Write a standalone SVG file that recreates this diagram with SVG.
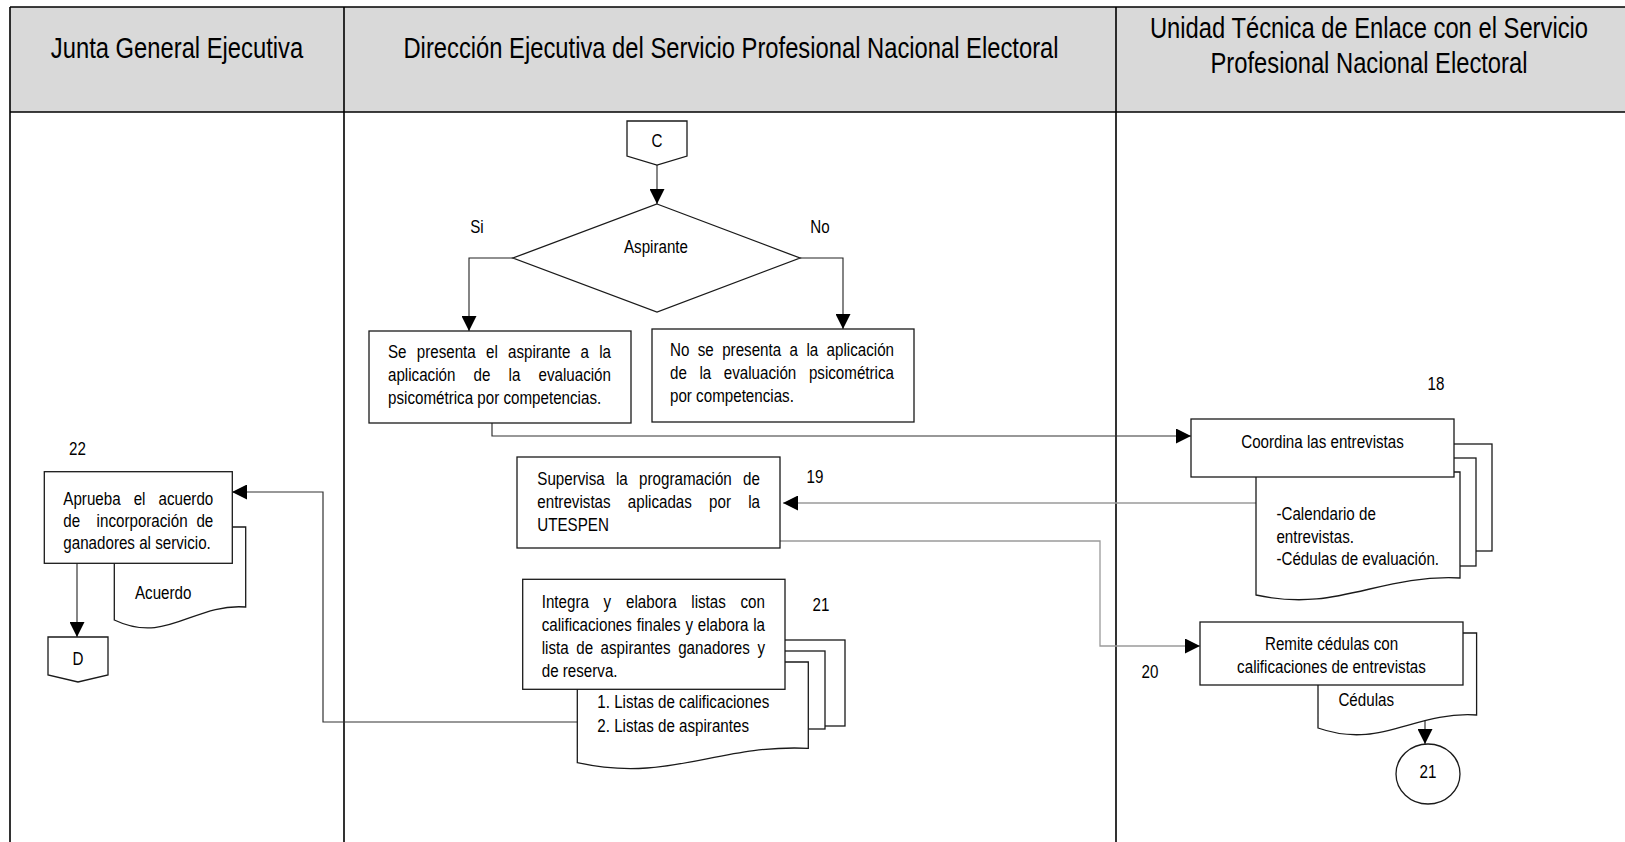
<svg xmlns="http://www.w3.org/2000/svg" width="1625" height="842" viewBox="0 0 1625 842">
<defs>
<style>
.t{font-family:'Liberation Sans',Arial,sans-serif;font-size:18.5px;fill:#000}
.h{font-size:29px}
.m{text-anchor:middle}
.box{fill:#fff;stroke:#1a1a1a;stroke-width:1.3}
.lane{fill:none;stroke:#000;stroke-width:1.6}
.cn{fill:none;stroke:#222;stroke-width:1.1}
.cd{fill:none;stroke:#333;stroke-width:1.2}
.cg{fill:none;stroke:#9a9a9a;stroke-width:1.3}
</style>
<marker id="ah" viewBox="0 0 10 10" refX="10" refY="5" markerWidth="15" markerHeight="15" markerUnits="userSpaceOnUse" orient="auto"><path d="M0,0L10,5L0,10Z" fill="#000"/></marker>
</defs>
<rect x="0" y="0" width="1625" height="842" fill="#fff"/>
<g id="lanes">
<rect x="10" y="7" width="1620" height="105" fill="#d9d9d9"/>
<path class="lane" d="M10,7H1625M10,112H1625M10,7V842M344,7V842M1116,7V842"/>
<text class="t h m" transform="matrix(0.82 0 0 1 177 0)" x="0" y="58">Junta General Ejecutiva</text>
<text class="t h m" transform="matrix(0.82 0 0 1 731 0)" x="0" y="58">Dirección Ejecutiva del Servicio Profesional Nacional Electoral</text>
<text class="t h m" transform="matrix(0.82 0 0 1 1369 0)" x="0" y="38">Unidad Técnica de Enlace con el Servicio</text>
<text class="t h m" transform="matrix(0.82 0 0 1 1369 0)" x="0" y="73">Profesional Nacional Electoral</text>
</g>
<g id="connectors">
<path class="cn" d="M657,165V204" marker-end="url(#ah)"/>
<path class="cn" d="M513,258H469V331" marker-end="url(#ah)"/>
<path class="cn" d="M800,258H843V329" marker-end="url(#ah)"/>
<path class="cd" d="M492,423V436H1191" marker-end="url(#ah)"/>
<path class="cg" d="M1256,503H783" marker-end="url(#ah)"/>
<path class="cg" d="M780,541H1100V646H1200" marker-end="url(#ah)"/>
<path class="cd" d="M577,722H323V492H232" marker-end="url(#ah)"/>
<path class="cn" d="M77,563V637" marker-end="url(#ah)"/>
<path class="cn" d="M1425,719V744" marker-end="url(#ah)"/>
</g>
<g id="nodeC">
<path class="box" d="M627,121H687V156L657,165L627,156Z"/>
<text class="t m" transform="matrix(0.82 0 0 1 657 0)" x="0" y="147">C</text>
</g>
<g id="decision">
<polygon class="box" points="657,204 800,258 657,312 513,258"/>
<text class="t m" transform="matrix(0.82 0 0 1 656 0)" x="0" y="253">Aspirante</text>
<text class="t m" transform="matrix(0.82 0 0 1 477 0)" x="0" y="233">Si</text>
<text class="t m" transform="matrix(0.82 0 0 1 820 0)" x="0" y="233">No</text>
</g>
<g id="nodeSi">
<rect class="box" x="369" y="331" width="262" height="92"/>
<text class="t" transform="matrix(0.82 0 0 1 388 0)" y="358"><tspan x="0">Se</tspan><tspan x="35.06">presenta</tspan><tspan x="119.51">el</tspan><tspan x="146.34">aspirante</tspan><tspan x="234.88">a</tspan><tspan x="257.56">la</tspan></text>
<text class="t" transform="matrix(0.82 0 0 1 388 0)" y="381"><tspan x="0">aplicación</tspan><tspan x="104.39">de</tspan><tspan x="147.07">la</tspan><tspan x="183.54">evaluación</tspan></text>
<text class="t" transform="matrix(0.82 0 0 1 388 0)" x="0" y="404">psicométrica por competencias.</text>
</g>
<g id="nodeNo">
<rect class="box" x="652" y="329" width="262" height="93"/>
<text class="t" transform="matrix(0.82 0 0 1 670 0)" y="356"><tspan x="0">No</tspan><tspan x="33.9">se</tspan><tspan x="63.66">presenta</tspan><tspan x="145.85">a</tspan><tspan x="166.34">la</tspan><tspan x="190.98">aplicación</tspan></text>
<text class="t" transform="matrix(0.82 0 0 1 670 0)" y="379"><tspan x="0">de</tspan><tspan x="35.85">la</tspan><tspan x="65.61">evaluación</tspan><tspan x="169.39">psicométrica</tspan></text>
<text class="t" transform="matrix(0.82 0 0 1 670 0)" x="0" y="402">por competencias.</text>
</g>
<g id="node18">
<rect class="box" x="1380" y="444" width="112" height="107"/>
<rect class="box" x="1370" y="458" width="106" height="108"/>
<path class="box" d="M1256,472H1460V578C1378,574 1338,613 1256,595Z"/>
<rect class="box" x="1191" y="419" width="263" height="58"/>
<text class="t m" transform="matrix(0.82 0 0 1 1322.5 0)" x="0" y="448">Coordina las entrevistas</text>
<text class="t" transform="matrix(0.82 0 0 1 1276.4 0)" x="0" y="520">-Calendario de</text>
<text class="t" transform="matrix(0.82 0 0 1 1276.4 0)" x="0" y="543">entrevistas.</text>
<text class="t" transform="matrix(0.82 0 0 1 1276.4 0)" x="0" y="565">-Cédulas de evaluación.</text>
<text class="t m" transform="matrix(0.82 0 0 1 1436 0)" x="0" y="390">18</text>
</g>
<g id="node19">
<rect class="box" x="517" y="457" width="263" height="91"/>
<text class="t" transform="matrix(0.82 0 0 1 537.3 0)" y="485"><tspan x="0">Supervisa</tspan><tspan x="95.98">la</tspan><tspan x="124.15">programación</tspan><tspan x="250.98">de</tspan></text>
<text class="t" transform="matrix(0.82 0 0 1 537.3 0)" y="508"><tspan x="0">entrevistas</tspan><tspan x="110.37">aplicadas</tspan><tspan x="209.51">por</tspan><tspan x="257.2">la</tspan></text>
<text class="t" transform="matrix(0.82 0 0 1 537.3 0)" x="0" y="531">UTESPEN</text>
<text class="t m" transform="matrix(0.82 0 0 1 815 0)" x="0" y="483">19</text>
</g>
<g id="node20">
<path class="box" d="M1318,633H1476.6V715C1413,711 1381,750 1318,728Z"/>
<rect class="box" x="1200" y="622" width="263" height="63"/>
<text class="t m" transform="matrix(0.82 0 0 1 1331.5 0)" x="0" y="650">Remite cédulas con</text>
<text class="t m" transform="matrix(0.82 0 0 1 1331.5 0)" x="0" y="673">calificaciones de entrevistas</text>
<text class="t" transform="matrix(0.82 0 0 1 1338.4 0)" x="0" y="706">Cédulas</text>
<text class="t m" transform="matrix(0.82 0 0 1 1150 0)" x="0" y="678">20</text>
</g>
<g id="conn21">
<ellipse class="box" cx="1428" cy="774" rx="32" ry="30"/>
<text class="t m" transform="matrix(0.82 0 0 1 1428 0)" x="0" y="778">21</text>
</g>
<g id="node21">
<rect class="box" x="700" y="640" width="145" height="86"/>
<rect class="box" x="690" y="651" width="135" height="78"/>
<path class="box" d="M577.3,662H808.3V748.3C716,744 670,783 577.3,762.7Z"/>
<rect class="box" x="522.7" y="579.3" width="262.3" height="110"/>
<text class="t" transform="matrix(0.82 0 0 1 541.7 0)" y="608"><tspan x="0">Integra</tspan><tspan x="75.49">y</tspan><tspan x="102.8">elabora</tspan><tspan x="182.44">listas</tspan><tspan x="242.44">con</tspan></text>
<text class="t" transform="matrix(0.82 0 0 1 541.7 0)" y="631"><tspan x="0">calificaciones</tspan><tspan x="115.85">finales</tspan><tspan x="175.24">y</tspan><tspan x="190.37">elabora</tspan><tspan x="257.93">la</tspan></text>
<text class="t" transform="matrix(0.82 0 0 1 541.7 0)" y="654"><tspan x="0">lista</tspan><tspan x="42.07">de</tspan><tspan x="71.83">aspirantes</tspan><tspan x="166.46">ganadores</tspan><tspan x="263.05">y</tspan></text>
<text class="t" transform="matrix(0.82 0 0 1 541.7 0)" x="0" y="677">de reserva.</text>
<text class="t" transform="matrix(0.82 0 0 1 597.3 0)" x="0" y="708">1. Listas de calificaciones</text>
<text class="t" transform="matrix(0.82 0 0 1 597.3 0)" x="0" y="732">2. Listas de aspirantes</text>
<text class="t m" transform="matrix(0.82 0 0 1 821 0)" x="0" y="611">21</text>
</g>
<g id="node22">
<path class="box" d="M114.3,527H245.7V607C193,603 167,645 114.3,620Z"/>
<rect class="box" x="44.3" y="471.7" width="188" height="91.6"/>
<text class="t" transform="matrix(0.82 0 0 1 63.3 0)" y="505"><tspan x="0">Aprueba</tspan><tspan x="85.85">el</tspan><tspan x="116.1">acuerdo</tspan></text>
<text class="t" transform="matrix(0.82 0 0 1 63.3 0)" y="527"><tspan x="0">de</tspan><tspan x="40.61">incorporación</tspan><tspan x="162.32">de</tspan></text>
<text class="t" transform="matrix(0.82 0 0 1 63.3 0)" x="0" y="549">ganadores al servicio.</text>
<text class="t" transform="matrix(0.82 0 0 1 135 0)" x="0" y="599">Acuerdo</text>
<text class="t m" transform="matrix(0.82 0 0 1 77.5 0)" x="0" y="455">22</text>
</g>
<g id="nodeD">
<path class="box" d="M48,637H108V675L78,682L48,675Z"/>
<text class="t m" transform="matrix(0.82 0 0 1 78 0)" x="0" y="665">D</text>
</g>
</svg>
